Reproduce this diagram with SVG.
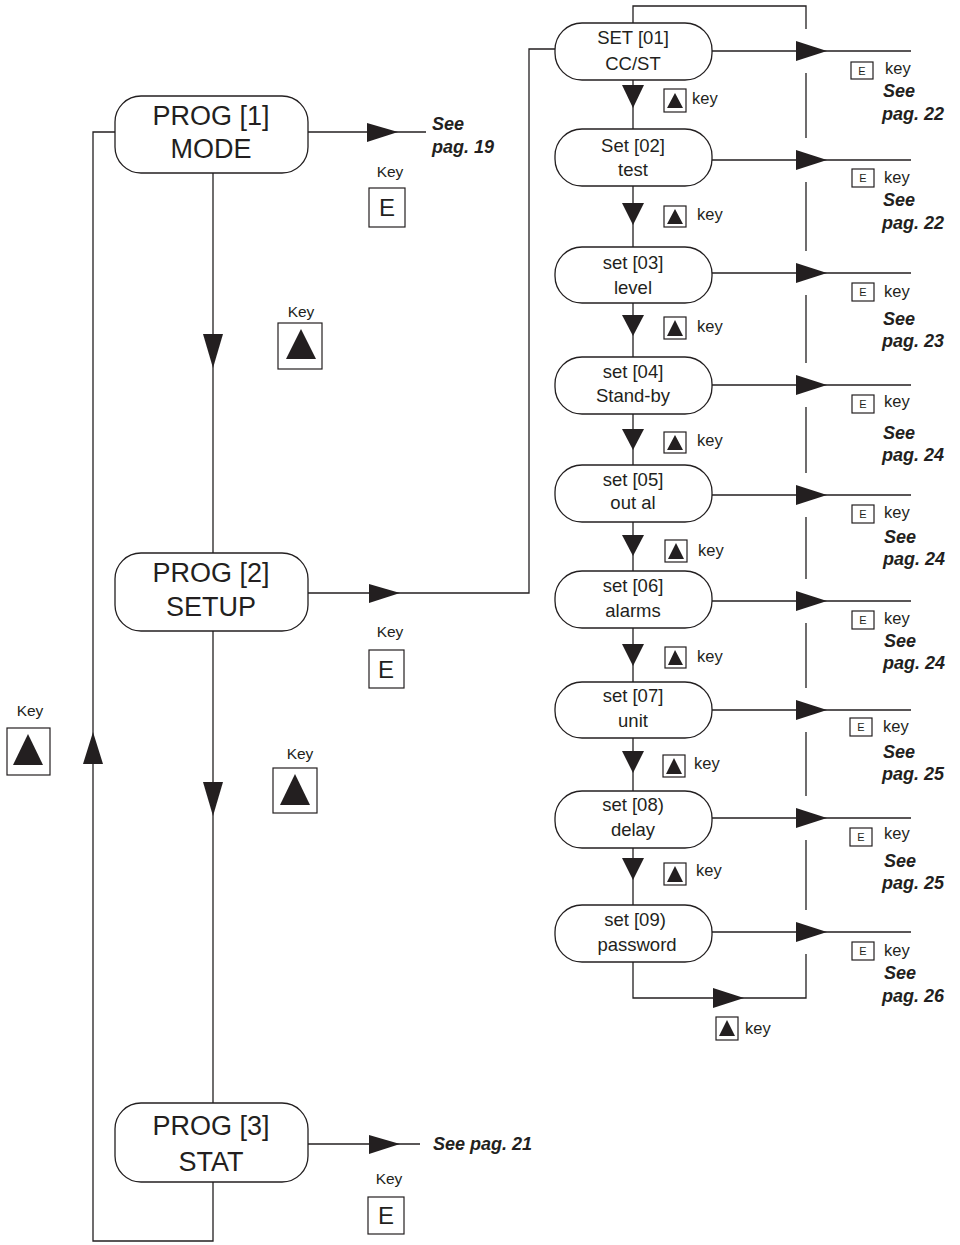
<svg xmlns="http://www.w3.org/2000/svg" width="960" height="1245" viewBox="0 0 960 1245">
<style>
.ln{fill:none;stroke:#231f20;stroke-width:1.3}
.bx{fill:#fff;stroke:#231f20;stroke-width:1.3}
.ah{fill:#231f20;stroke:none}
.kb{fill:#fff;stroke:#231f20;stroke-width:1.2}
.big{font-family:"Liberation Sans",Arial,sans-serif;font-size:27px;fill:#231f20;text-anchor:middle}
.sm{font-family:"Liberation Sans",Arial,sans-serif;font-size:18.5px;fill:#231f20;text-anchor:middle}
.key{font-family:"Liberation Sans",Arial,sans-serif;font-size:15.5px;fill:#231f20}
.k16{font-family:"Liberation Sans",Arial,sans-serif;font-size:16.5px;fill:#231f20}
.e{font-family:"Liberation Sans",Arial,sans-serif;font-size:24px;fill:#231f20;text-anchor:middle}
.es{font-family:"Liberation Sans",Arial,sans-serif;font-size:11px;fill:#231f20;text-anchor:middle}
.see{font-family:"Liberation Sans",Arial,sans-serif;font-size:18px;font-weight:bold;font-style:italic;fill:#231f20}
</style>
<g id="connectors">
  <path class="ln" d="M115,132 H93 V1241 H213 V1182"/>
  <polygon class="ah" points="93,732 83,764 103,764"/>
  <path class="ln" d="M213,173 V553"/>
  <polygon class="ah" points="203,334 223,334 213,368"/>
  <path class="ln" d="M213,631 V1103"/>
  <polygon class="ah" points="203,782 223,782 213,816"/>
  <path class="ln" d="M308,132 H426"/>
  <polygon class="ah" points="367,123 367,142 398,132"/>
  <path class="ln" d="M308,593 H529 V49 H555"/>
  <polygon class="ah" points="369,584 369,603 400,593"/>
  <path class="ln" d="M308,1144 H420"/>
  <polygon class="ah" points="369,1135 369,1154 400,1144"/>
  <path class="ln" d="M633,23 V6 H806 V29"/>
  <path class="ln" d="M806,73 V138 M806,182 V251 M806,295 V363 M806,407 V473 M806,517 V579 M806,623 V688 M806,732 V796 M806,840 V910 M806,954 V998 H633 V962"/>
  <polygon class="ah" points="713,988 713,1008 744,998"/>
  <path class="ln" d="M712,51 H911 M712,160 H911 M712,273 H911 M712,385 H911 M712,495 H911 M712,601 H911 M712,710 H911 M712,818 H911 M712,932 H911"/>
  <polygon class="ah" points="796,41 796,61 827,51"/>
  <polygon class="ah" points="796,150 796,170 827,160"/>
  <polygon class="ah" points="796,263 796,283 827,273"/>
  <polygon class="ah" points="796,375 796,395 827,385"/>
  <polygon class="ah" points="796,485 796,505 827,495"/>
  <polygon class="ah" points="796,591 796,611 827,601"/>
  <polygon class="ah" points="796,700 796,720 827,710"/>
  <polygon class="ah" points="796,808 796,828 827,818"/>
  <polygon class="ah" points="796,922 796,942 827,932"/>
  <path class="ln" d="M633,80 V129 M633,186 V247 M633,303 V357 M633,414 V465 M633,522 V571 M633,628 V682 M633,738 V791 M633,848 V905"/>
  <polygon class="ah" points="622,85 644,85 633,108"/>
  <polygon class="ah" points="622,203 644,203 633,225"/>
  <polygon class="ah" points="622,315 644,315 633,336"/>
  <polygon class="ah" points="622,429 644,429 633,450"/>
  <polygon class="ah" points="622,535 644,535 633,556"/>
  <polygon class="ah" points="622,644 644,644 633,666"/>
  <polygon class="ah" points="622,751 644,751 633,773"/>
  <polygon class="ah" points="622,858 644,858 633,880"/>
</g>

<g id="prog1">
  <rect class="bx" x="115" y="96" width="193" height="77" rx="26"/>
  <text class="big" x="211" y="125">PROG [1]</text>
  <text class="big" x="211" y="158">MODE</text>
</g>
<g id="prog2">
  <rect class="bx" x="115" y="553" width="193" height="78" rx="26"/>
  <text class="big" x="211" y="582">PROG [2]</text>
  <text class="big" x="211" y="616">SETUP</text>
</g>
<g id="prog3">
  <rect class="bx" x="115" y="1103" width="193" height="79" rx="26"/>
  <text class="big" x="211" y="1135">PROG [3]</text>
  <text class="big" x="211" y="1171">STAT</text>
</g>

<g id="labels-left">
  <text class="see" x="432" y="130">See</text>
  <text class="see" x="432" y="153">pag. 19</text>
  <text class="see" x="433" y="1150">See pag. 21</text>
  <text class="key" x="390" y="177" text-anchor="middle">Key</text>
  <rect class="kb" x="369" y="188" width="36" height="39"/>
  <text class="e" x="387" y="216">E</text>
  <text class="key" x="390" y="637" text-anchor="middle">Key</text>
  <rect class="kb" x="369" y="650" width="35" height="38"/>
  <text class="e" x="386" y="678">E</text>
  <text class="key" x="389" y="1184" text-anchor="middle">Key</text>
  <rect class="kb" x="368" y="1197" width="36" height="37"/>
  <text class="e" x="386" y="1224">E</text>
  <text class="key" x="301" y="317" text-anchor="middle">Key</text>
  <rect class="kb" x="278" y="323" width="44" height="46"/>
  <polygon class="ah" points="301,329 286,359 316,359"/>
  <text class="key" x="300" y="759" text-anchor="middle">Key</text>
  <rect class="kb" x="273" y="768" width="44" height="45"/>
  <polygon class="ah" points="295,774 280,805 310,805"/>
  <text class="key" x="30" y="716" text-anchor="middle">Key</text>
  <rect class="kb" x="7" y="728" width="43" height="47"/>
  <polygon class="ah" points="28,734 13,765 43,765"/>
</g>

<g id="set01"><rect class="bx" x="555" y="23" width="157" height="57" rx="27"/><text class="sm" x="633" y="44">SET [01]</text><text class="sm" x="633" y="70">CC/ST</text></g>
<g id="set02"><rect class="bx" x="555" y="129" width="157" height="57" rx="27"/><text class="sm" x="633" y="152">Set [02]</text><text class="sm" x="633" y="176">test</text></g>
<g id="set03"><rect class="bx" x="555" y="247" width="157" height="56" rx="27"/><text class="sm" x="633" y="269">set [03]</text><text class="sm" x="633" y="294">level</text></g>
<g id="set04"><rect class="bx" x="555" y="357" width="157" height="57" rx="27"/><text class="sm" x="633" y="378">set [04]</text><text class="sm" x="633" y="402">Stand-by</text></g>
<g id="set05"><rect class="bx" x="555" y="465" width="157" height="57" rx="27"/><text class="sm" x="633" y="486">set [05]</text><text class="sm" x="633" y="509">out al</text></g>
<g id="set06"><rect class="bx" x="555" y="571" width="157" height="57" rx="27"/><text class="sm" x="633" y="592">set [06]</text><text class="sm" x="633" y="617">alarms</text></g>
<g id="set07"><rect class="bx" x="555" y="682" width="157" height="56" rx="27"/><text class="sm" x="633" y="702">set [07]</text><text class="sm" x="633" y="727">unit</text></g>
<g id="set08"><rect class="bx" x="555" y="791" width="157" height="57" rx="27"/><text class="sm" x="633" y="811">set [08)</text><text class="sm" x="633" y="836">delay</text></g>
<g id="set09"><rect class="bx" x="555" y="905" width="157" height="57" rx="27"/><text class="sm" x="635" y="926">set [09)</text><text class="sm" x="637" y="951">password</text></g>

<g id="labels-right">
  <rect class="kb" x="851" y="62" width="22" height="17"/><text class="es" x="862" y="75">E</text><text class="k16" x="885" y="74">key</text>
  <text class="see" x="883" y="97">See</text><text class="see" x="882" y="120">pag. 22</text>
  <rect class="kb" x="852" y="169" width="22" height="18"/><text class="es" x="863" y="182">E</text><text class="k16" x="884" y="183">key</text>
  <text class="see" x="883" y="206">See</text><text class="see" x="882" y="229">pag. 22</text>
  <rect class="kb" x="852" y="283" width="22" height="18"/><text class="es" x="863" y="296">E</text><text class="k16" x="884" y="297">key</text>
  <text class="see" x="883" y="325">See</text><text class="see" x="882" y="347">pag. 23</text>
  <rect class="kb" x="852" y="395" width="22" height="18"/><text class="es" x="863" y="408">E</text><text class="k16" x="884" y="407">key</text>
  <text class="see" x="883" y="439">See</text><text class="see" x="882" y="461">pag. 24</text>
  <rect class="kb" x="852" y="505" width="22" height="18"/><text class="es" x="863" y="518">E</text><text class="k16" x="884" y="518">key</text>
  <text class="see" x="884" y="543">See</text><text class="see" x="883" y="565">pag. 24</text>
  <rect class="kb" x="852" y="611" width="22" height="18"/><text class="es" x="863" y="624">E</text><text class="k16" x="884" y="624">key</text>
  <text class="see" x="884" y="647">See</text><text class="see" x="883" y="669">pag. 24</text>
  <rect class="kb" x="850" y="718" width="22" height="18"/><text class="es" x="861" y="731">E</text><text class="k16" x="883" y="732">key</text>
  <text class="see" x="883" y="758">See</text><text class="see" x="882" y="780">pag. 25</text>
  <rect class="kb" x="850" y="828" width="22" height="18"/><text class="es" x="861" y="841">E</text><text class="k16" x="884" y="839">key</text>
  <text class="see" x="884" y="867">See</text><text class="see" x="882" y="889">pag. 25</text>
  <rect class="kb" x="852" y="942" width="22" height="18"/><text class="es" x="863" y="955">E</text><text class="k16" x="884" y="956">key</text>
  <text class="see" x="884" y="979">See</text><text class="see" x="882" y="1002">pag. 26</text>

  <rect class="kb" x="664" y="89" width="22" height="23"/><polygon class="ah" points="675,93 667,108 683,108"/><text class="k16" x="692" y="104">key</text>
  <rect class="kb" x="664" y="206" width="22" height="21"/><polygon class="ah" points="675,209 667,224 683,224"/><text class="k16" x="697" y="220">key</text>
  <rect class="kb" x="664" y="317" width="22" height="22"/><polygon class="ah" points="675,320 667,336 683,336"/><text class="k16" x="697" y="332">key</text>
  <rect class="kb" x="664" y="432" width="22" height="21"/><polygon class="ah" points="675,435 667,450 683,450"/><text class="k16" x="697" y="446">key</text>
  <rect class="kb" x="665" y="540" width="22" height="22"/><polygon class="ah" points="676,543 668,559 684,559"/><text class="k16" x="698" y="556">key</text>
  <rect class="kb" x="665" y="647" width="21" height="21"/><polygon class="ah" points="675,650 668,665 683,665"/><text class="k16" x="697" y="662">key</text>
  <rect class="kb" x="663" y="755" width="22" height="22"/><polygon class="ah" points="674,758 666,774 682,774"/><text class="k16" x="694" y="769">key</text>
  <rect class="kb" x="664" y="863" width="22" height="22"/><polygon class="ah" points="675,866 667,882 683,882"/><text class="k16" x="696" y="876">key</text>
  <rect class="kb" x="716" y="1017" width="22" height="23"/><polygon class="ah" points="727,1020 719,1036 735,1036"/><text class="k16" x="745" y="1034">key</text>
</g>
</svg>
